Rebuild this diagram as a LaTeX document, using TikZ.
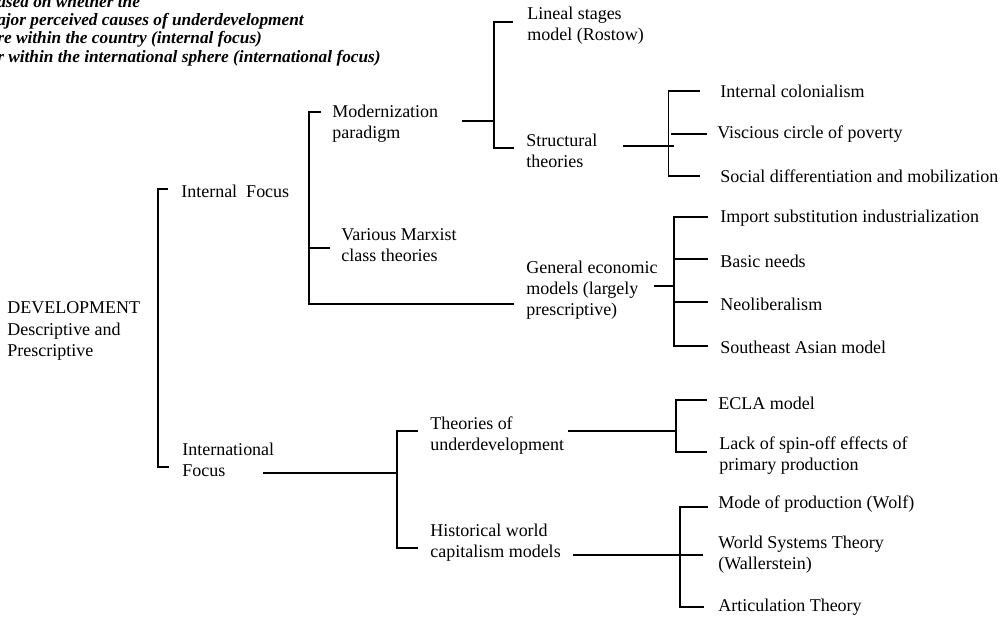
\documentclass[tikz,border=0pt]{standalone}
\usepackage{fontspec}
\setmainfont{Liberation Serif}
\usetikzlibrary{positioning,calc}
\newcommand{\rmsize}{\fontsize{12.8pt}{15pt}\selectfont}
\newcommand{\notesize}{\fontsize{12.3pt}{13pt}\selectfont}
\tikzset{
  item/.style={anchor=west,align=left,inner sep=0pt,font=\rmsize},
  note/.style={anchor=north west,align=left,inner sep=0pt,font=\notesize\bfseries\itshape},
  link/.style={draw=black,line width=0.8pt},
}

\begin{document}
\begin{tikzpicture}[x=0.25mm,y=-0.25mm]
  \useasboundingbox (0,0) rectangle (1005,619);
  % caption fragment, cut off at the left edge
  \node[note] (cap) at (-3,-5) {ased on whether the\\ajor perceived causes of underdevelopment\\re within the country (internal focus)\\r within the international sphere (international focus)};
  % root and first level
  \node[item] (dev) at (7,331) {DEVELOPMENT\\Descriptive and\\Prescriptive};
  \node[item] (intf) at (181,191) {Internal\ \ Focus};
  \node[item] (extf) at (182,460) {International\\Focus};
  % internal focus
  \node[item] (mod) at (332,124) {Modernization\\paradigm};
  \node[item] (marx) at (341,245) {Various Marxist\\class theories};
  \node[item] (gen) at (526,290) {General economic\\models (largely\\prescriptive)};
  \node[item] (lin) at (527,26) {Lineal stages\\model (Rostow)};
  \node[item] (str) at (526,151) {Structural\\theories};
  \node[item] (ic) at (720,91) {Internal colonialism};
  \node[item] (vc) at (717,134) {Viscious circle of poverty};
  \node[item] (sd) at (720,176) {Social differentiation and mobilization};
  \node[item] (isi) at (720,218) {Import substitution industrialization};
  \node[item] (bn) at (720,261) {Basic needs};
  \node[item] (neo) at (720,304) {Neoliberalism};
  \node[item] (sea) at (720,347) {Southeast Asian model};
  % international focus
  \node[item] (und) at (430,436) {Theories of\\underdevelopment};
  \node[item] (hist) at (430,543) {Historical world\\capitalism models};
  \node[item] (ecla) at (718,403) {ECLA model};
  \node[item] (lack) at (719,456) {Lack of spin-off effects of\\primary production};
  \node[item] (mode) at (718,504) {Mode of production (Wolf)};
  \node[item] (wst) at (718,555) {World Systems Theory\\(Wallerstein)};
  \node[item] (art) at (718,607) {Articulation Theory};
  % line starts right of the parent texts
  \coordinate (mod-o) at (462,121);
  \coordinate (str-o) at (623,146);
  \coordinate (gen-o) at (654,286);
  \coordinate (extf-o) at (263,473);
  \coordinate (und-o) at (568,431);
  \coordinate (hist-o) at (573,555);

  % brackets
  \draw[link] ([shift={(-13,-2)}]intf.west) -- ++(-10,0) |- ([shift={(-13,7)}]extf.west);

  \draw[link] ([shift={(-11,-12)}]mod.west) -- ++(-12,0) |- ([shift={(-12,14)}]gen.west);
  \draw[link] ([shift={(-11,3)}]marx.west) -- ++(-21,0);

  \draw[link] (mod-o) -- ++(32,0);
  \draw[link] ([shift={(-14,-4)}]lin.west) -- ++(-19,0) |- ([shift={(-12,-3)}]str.west);

  \draw[link] (str-o) -- ++(51,0);
  \draw[link] ([xshift=-14]ic.west) -- ++(-32,0) |- ([xshift=-14]sd.west);
  \draw[link] ([xshift=-7]vc.west) -- ++(-36,0);

  \draw[link] (gen-o) -- ++(20,0);
  \draw[link] ([shift={(-12,-1)}]isi.west) -- ++(-34,0) |- ([shift={(-12,-1)}]sea.west);
  \foreach \n in {bn,neo}
    \draw[link] ([shift={(-12,-2)}]\n.west) -- ++(-34,0);

  \draw[link] (extf-o) -- ++(134,0);
  \draw[link] ([shift={(-12,-5)}]und.west) -- ++(-21,0) |- ([shift={(-12,5)}]hist.west);

  \draw[link] (und-o) -- ++(108,0);
  \draw[link] ([shift={(-11,-3)}]ecla.west) -- ++(-31,0) |- ([shift={(-12,-4)}]lack.west);

  \draw[link] (hist-o) -- ([xshift=-11]wst.west);
  \draw[link] ([shift={(-10,3)}]mode.west) -- ++(-28,0) |- ([xshift=-10]art.west);
\end{tikzpicture}
\end{document}
